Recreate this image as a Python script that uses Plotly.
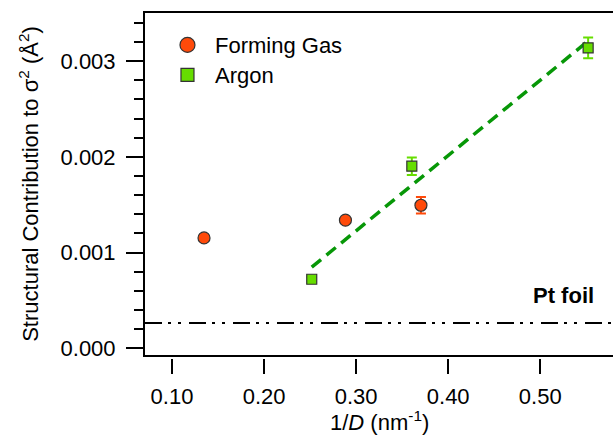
import numpy as np
import plotly.graph_objects as go

# ---- data ----
fg_x = [0.1348, 0.2884, 0.3704]
fg_y = [0.001153, 0.001338, 0.001494]
fg_err = [0.00003, 0.00002, 0.000087]

ar_x = [0.2518, 0.3605, 0.5520]
ar_y = [0.000721, 0.001902, 0.003138]
ar_err = [0.00002, 0.000092, 0.000108]

pt_foil = 0.000264

x_range = [0.0707, 0.579]
y_range = [-0.00007, 0.003502]
x_ticks = [0.10, 0.20, 0.30, 0.40, 0.50]
x_ticklabels = ["0.10", "0.20", "0.30", "0.40", "0.50"]

FONT = "Liberation Sans, Arial, sans-serif"
FG_COLOR = "#FF4A0A"
AR_COLOR = "#66DD00"
FIT_COLOR = "#079707"
EDGE = "#333333"

# linear fit to Argon data
slope, intercept = np.polyfit(ar_x, ar_y, 1)
fit_x = np.array([min(ar_x), max(ar_x)])
fit_y = slope * fit_x + intercept

fig = go.Figure()

fig.add_trace(go.Scatter(
    x=fit_x, y=fit_y, mode="lines", showlegend=False,
    line=dict(color=FIT_COLOR, width=3.5, dash="12px,7px"), hoverinfo="skip"))

fig.add_trace(go.Scatter(
    x=fg_x, y=fg_y, mode="markers", name="Forming Gas", showlegend=False,
    marker=dict(symbol="circle", size=12, color=FG_COLOR,
                line=dict(color=EDGE, width=1.2)),
    error_y=dict(type="data", array=fg_err, visible=True, color=FG_COLOR,
                 thickness=2, width=5)))

fig.add_trace(go.Scatter(
    x=ar_x, y=ar_y, mode="markers", name="Argon", showlegend=False,
    marker=dict(symbol="square", size=10, color=AR_COLOR,
                line=dict(color=EDGE, width=1.2)),
    error_y=dict(type="data", array=ar_err, visible=True, color=AR_COLOR,
                 thickness=2, width=5)))

# legend entries (separate legends for exact row placement)
fig.add_trace(go.Scatter(
    x=[None], y=[None], mode="markers", name="Forming Gas", legend="legend",
    marker=dict(symbol="circle", size=15, color=FG_COLOR,
                line=dict(color=EDGE, width=1.2))))
fig.add_trace(go.Scatter(
    x=[None], y=[None], mode="markers", name="Argon", legend="legend2",
    marker=dict(symbol="square", size=13, color=AR_COLOR,
                line=dict(color=EDGE, width=1.2))))

# invisible trace to carry the detached tick axis
fig.add_trace(go.Scatter(x=x_range, y=[None, None], xaxis="x2", yaxis="y",
                         showlegend=False, hoverinfo="skip", mode="markers"))

fig.add_shape(type="line", xref="paper", yref="y", x0=0, x1=1,
              y0=pt_foil, y1=pt_foil,
              line=dict(color="black", width=2,
                        dash="17px,6px,3px,7px,3px,8px"))

fig.add_annotation(x=0.525, y=0.00055, xref="x", yref="y", text="<b>Pt foil</b>",
                   showarrow=False, font=dict(family=FONT, size=22, color="black"),
                   xanchor="center", yanchor="middle")

# x-axis title
fig.add_annotation(x=0.5, y=-0.182, xref="paper", yref="paper",
                   text="1/<i>D</i> (nm<sup>-1</sup>)", showarrow=False,
                   font=dict(family=FONT, size=22, color="black"),
                   xanchor="center", yanchor="middle")

H = 437 - 13 - 79
d = 3 / H

legend_common = dict(xanchor="left", yanchor="middle", bgcolor="rgba(0,0,0,0)",
                     borderwidth=0, font=dict(family=FONT, size=22), itemwidth=45)

fig.update_layout(
    width=613, height=437,
    margin=dict(l=145, r=0, t=13, b=79),
    paper_bgcolor="white", plot_bgcolor="white",
    font=dict(family=FONT, size=22, color="black"),
    xaxis=dict(range=x_range, showline=True, linecolor="black", linewidth=2,
               mirror=True, ticks="", showticklabels=False, showgrid=False,
               zeroline=False),
    xaxis2=dict(range=x_range, overlaying="x", anchor="free", position=0,
                side="bottom", showline=False, ticks="outside", ticklen=15,
                tickwidth=2, tickcolor="black", tickvals=x_ticks,
                ticktext=x_ticklabels, showgrid=False, zeroline=False,
                ticklabelstandoff=4,
                tickfont=dict(family=FONT, size=22)),
    yaxis=dict(range=y_range, domain=[d, 1], showline=True, linecolor="black",
               linewidth=2, ticks="outside", ticklen=17, tickwidth=2,
               tickcolor="black", tick0=0, dtick=0.001, tickformat=".3f",
               showgrid=False, zeroline=False, ticklabelstandoff=6,
               minor=dict(ticks="outside", ticklen=9, tickwidth=2,
                          tickcolor="black", dtick=0.0002, tick0=0, showgrid=False),
               tickfont=dict(family=FONT, size=22),
               title=dict(text="Structural Contribution to σ<sup>2</sup> (Å<sup>2</sup>)",
                          standoff=16, font=dict(family=FONT, size=22))),
    legend=dict(x=0.032, y=0.907, **legend_common),
    legend2=dict(x=0.032, y=0.820, **legend_common),
)

fig.write_html("out.html")
